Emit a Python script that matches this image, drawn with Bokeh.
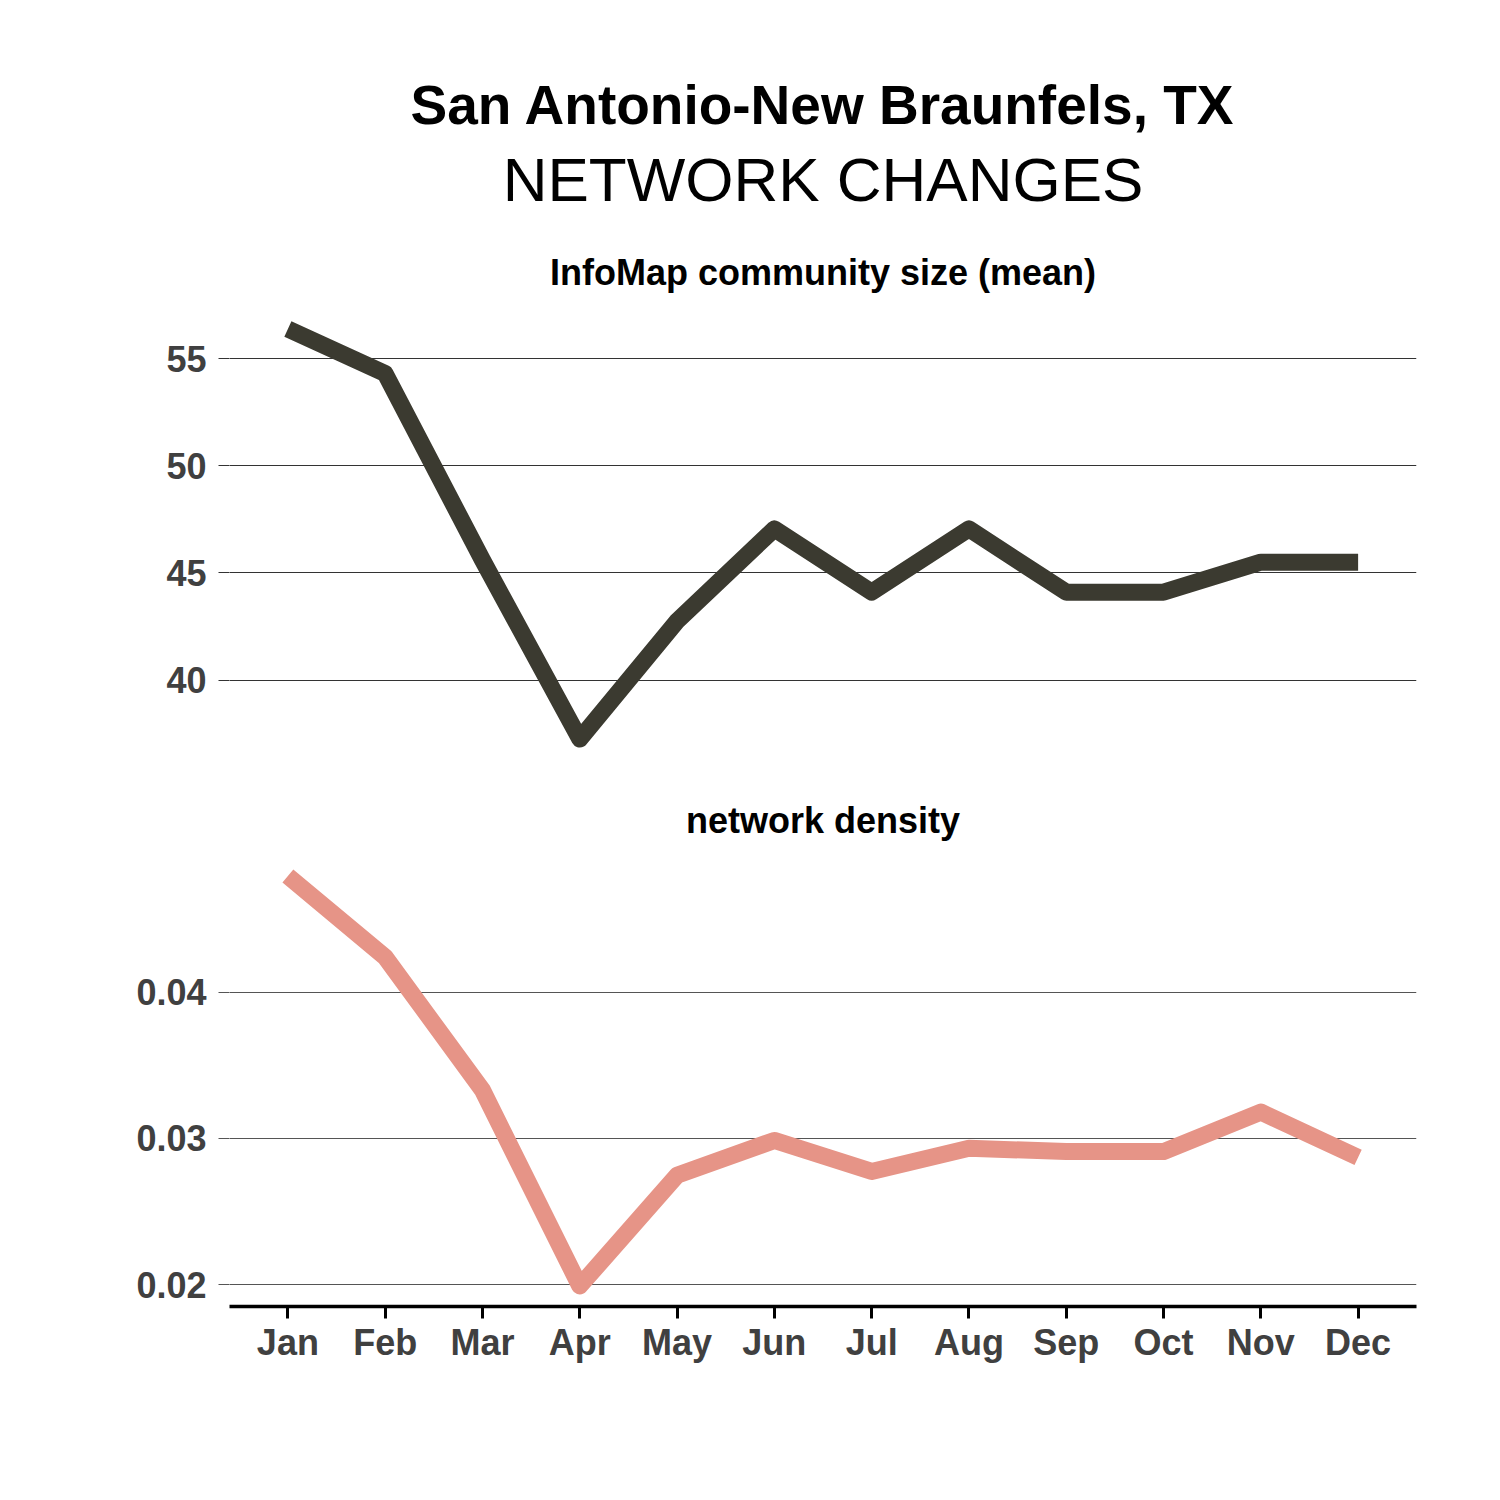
from bokeh.plotting import figure
from bokeh.models import Title, Range1d, FixedTicker
from bokeh.layouts import column
from bokeh.embed import file_html
from bokeh.resources import INLINE

# ---- data ----
months = ["Jan", "Feb", "Mar", "Apr", "May", "Jun", "Jul", "Aug", "Sep", "Oct", "Nov", "Dec"]
month_pos = [1, 2, 3, 4, 5, 6, 7, 8, 9, 10, 11, 12]
community_size = [56.38, 54.3, 45.6, 37.25, 42.75, 47.05, 44.1, 47.05, 44.1, 44.1, 45.5, 45.5]
density = [0.04795, 0.0424, 0.0333, 0.0199, 0.02747, 0.02986, 0.02774, 0.02932, 0.0291, 0.0291, 0.0318, 0.0287]
size_ticks = [40, 45, 50, 55]
density_ticks = [0.02, 0.03, 0.04]

main_title = "San Antonio-New Braunfels, TX"
sub_title = "NETWORK CHANGES"
panel1_title = "InfoMap community size (mean)"
panel2_title = "network density"

FONT = "Liberation Sans"
LABEL_COLOR = "#404040"


def expanded(vals, frac=0.05):
    lo, hi = min(vals), max(vals)
    pad = (hi - lo) * frac
    return Range1d(lo - pad, hi + pad)


def style(p, ticks, grid_color):
    p.outline_line_color = None
    p.background_fill_color = "white"
    p.border_fill_color = "white"
    p.xgrid.grid_line_color = None
    p.ygrid.grid_line_color = grid_color
    p.ygrid.grid_line_width = 1
    p.yaxis.ticker = FixedTicker(ticks=ticks)
    p.yaxis.axis_line_color = None
    p.yaxis.major_tick_out = 11
    p.yaxis.major_tick_in = 0
    p.yaxis.major_tick_line_color = grid_color
    p.yaxis.major_tick_line_width = 1
    p.yaxis.minor_tick_line_color = None
    p.yaxis.major_label_text_font = FONT
    p.yaxis.major_label_text_font_size = "36px"
    p.yaxis.major_label_text_font_style = "bold"
    p.yaxis.major_label_text_color = LABEL_COLOR
    p.yaxis.major_label_standoff = 12


x_range = Range1d(0.4, 12.6)

# ---- top panel ----
p1 = figure(width=1492, height=779, output_backend="svg", toolbar_location=None,
            x_range=x_range, y_range=expanded(community_size),
            x_axis_location=None,
            min_border_left=229, min_border_right=76, min_border_top=308, min_border_bottom=20)
style(p1, size_ticks, "#333333")
p1.line(month_pos, community_size, line_color="#3b3a30", line_width=17,
        line_join="round", line_cap="butt")

p1.add_layout(Title(text=panel1_title, align="center", text_font=FONT, text_font_size="36px",
                    text_font_style="bold", text_color="black", standoff=32), "above")
p1.add_layout(Title(text=sub_title, align="center", text_font=FONT, text_font_size="62px",
                    text_font_style="normal", text_color="black", standoff=39), "above")
p1.add_layout(Title(text=main_title, align="center", text_font=FONT, text_font_size="55px",
                    text_font_style="bold", text_color="black", standoff=-24), "above")

# ---- bottom panel ----
p2 = figure(width=1492, height=713, output_backend="svg", toolbar_location=None,
            x_range=x_range, y_range=expanded(density),
            min_border_left=229, min_border_right=76, min_border_top=76, min_border_bottom=186)
style(p2, density_ticks, "#555555")
p2.line(month_pos, density, line_color="#e69487", line_width=17,
        line_join="round", line_cap="butt")
p2.add_layout(Title(text=panel2_title, align="center", text_font=FONT, text_font_size="36px",
                    text_font_style="bold", text_color="black", standoff=30), "above")

p2.xaxis.ticker = FixedTicker(ticks=month_pos)
p2.xaxis.major_label_overrides = {m: lab for m, lab in zip(month_pos, months)}
p2.xaxis.axis_line_color = "black"
p2.xaxis.axis_line_width = 3.5
p2.xaxis.major_tick_out = 12
p2.xaxis.major_tick_in = 0
p2.xaxis.major_tick_line_color = "black"
p2.xaxis.major_tick_line_width = 3
p2.xaxis.minor_tick_line_color = None
p2.xaxis.major_label_text_font = FONT
p2.xaxis.major_label_text_font_size = "36px"
p2.xaxis.major_label_text_font_style = "bold"
p2.xaxis.major_label_text_color = LABEL_COLOR
p2.xaxis.major_label_standoff = 3

layout = column(p1, p2, spacing=0)
open("out.html", "w").write(file_html(layout, INLINE))
